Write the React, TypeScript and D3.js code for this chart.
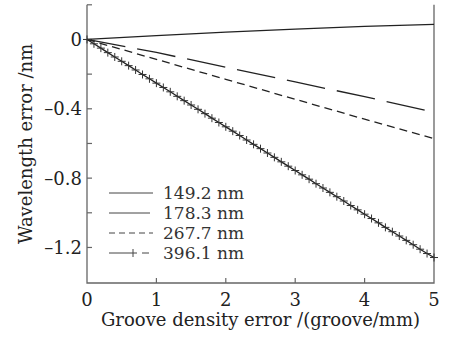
import React from 'react'
import * as d3 from 'd3'

// Groove density error (groove/mm) for the sampled curves
const xCoarse = [0, 1, 2, 3, 4, 5]
const s149 = [0, 0.022, 0.042, 0.06, 0.075, 0.087]
const s178 = [0, -0.075, -0.16, -0.245, -0.33, -0.42]
const s267 = [0, -0.115, -0.23, -0.345, -0.46, -0.572]

// 396.1 nm curve is sampled densely (with + markers)
const xFine = [
  0, 0.1, 0.2, 0.3, 0.4, 0.5, 0.6, 0.7, 0.8, 0.9,
  1, 1.1, 1.2, 1.3, 1.4, 1.5, 1.6, 1.7, 1.8, 1.9,
  2, 2.1, 2.2, 2.3, 2.4, 2.5, 2.6, 2.7, 2.8, 2.9,
  3, 3.1, 3.2, 3.3, 3.4, 3.5, 3.6, 3.7, 3.8, 3.9,
  4, 4.1, 4.2, 4.3, 4.4, 4.5, 4.6, 4.7, 4.8, 4.9, 5,
]
const s396 = [
  0, -0.025, -0.05, -0.076, -0.101, -0.126, -0.151, -0.176, -0.202, -0.227,
  -0.252, -0.277, -0.302, -0.328, -0.353, -0.378, -0.403, -0.428, -0.454, -0.479,
  -0.504, -0.529, -0.554, -0.58, -0.605, -0.63, -0.655, -0.68, -0.706, -0.731,
  -0.756, -0.781, -0.806, -0.832, -0.857, -0.882, -0.907, -0.932, -0.958, -0.983,
  -1.008, -1.033, -1.058, -1.084, -1.109, -1.134, -1.159, -1.184, -1.21, -1.235, -1.258,
]

const xTicks = [0, 1, 2, 3, 4, 5]
const yTicksMajor = [0, -0.4, -0.8, -1.2]
const yTicksMinor = [0.2, -0.2, -0.6, -1.0]
const legendLabels = ['149.2 nm', '178.3 nm', '267.7 nm', '396.1 nm']

const W = 453
const H = 338
const FONT = '"DejaVu Serif", serif'
const INK = '#222'
const FRAME = '#666'

export default function App() {
  const left = 87
  const right = 434
  const top = 4.8
  const bottom = 283

  const x = d3.scaleLinear().domain([0, 5]).range([left, right])
  const y = d3.scaleLinear().domain([-1.405, 0.2]).range([bottom, top])

  const line = d3.line<[number, number]>()
    .x(d => x(d[0]))
    .y(d => y(d[1]))

  const coarse = (vals: number[]) => xCoarse.map((v, i) => [v, vals[i]] as [number, number])
  const fine = xFine.map((v, i) => [v, s396[i]] as [number, number])

  const series = [
    { pts: coarse(s149), dash: undefined },
    { pts: coarse(s178), dash: '39,12' },
    { pts: coarse(s267), dash: '8,5' },
  ]

  const plus = (cx: number, cy: number, r = 4) =>
    `M${cx - r},${cy}H${cx + r}M${cx},${cy - r}V${cy + r}`

  const fmt = (v: number) => (v === 0 ? '0' : (v < 0 ? '\u2013' : '') + Math.abs(v).toFixed(1))

  const legX = 109
  const legY0 = 193
  const legStep = 20

  return (
    <svg width={W} height={H} style={{ position: 'absolute', left: 0, top: 0, background: '#fff' }}
      fontFamily={FONT}>
      {/* frame */}
      <path d={`M${left},${top}V${bottom}H${right}V${top}`} fill="none" stroke={FRAME} strokeWidth={1.3} />

      {/* x ticks */}
      {xTicks.map(t => (
        <g key={'x' + t}>
          {t > 0 && t < 5 && (
            <line x1={x(t)} x2={x(t)} y1={bottom} y2={bottom - 5} stroke={FRAME} strokeWidth={1.2} />
          )}
          <text x={x(t)} y={306} textAnchor="middle" fontSize={18} fill={INK}>{t}</text>
        </g>
      ))}

      {/* y ticks */}
      {yTicksMajor.concat(yTicksMinor).map(t => (
        <line key={'yt' + t} x1={left} x2={left + 5} y1={y(t)} y2={y(t)} stroke={FRAME} strokeWidth={1.2} />
      ))}
      {yTicksMajor.map(t => (
        <text key={'yl' + t} x={82} y={y(t)} dy="0.36em" textAnchor="end" fontSize={18} fill={INK}>{fmt(t)}</text>
      ))}

      {/* axis titles */}
      <text x={(left + right) / 2} y={326} textAnchor="middle" fontSize={18} fill={INK}>
        Groove density error /(groove/mm)
      </text>
      <text transform={`translate(32,${(top + bottom) / 2}) rotate(-90)`} textAnchor="middle" fontSize={18} fill={INK}>
        Wavelength error /nm
      </text>

      {/* series */}
      {series.map((s, i) => (
        <path key={'s' + i} d={line(s.pts) || ''} fill="none" stroke={INK} strokeWidth={1.3}
          strokeDasharray={s.dash} />
      ))}
      <path d={line(fine) || ''} fill="none" stroke={INK} strokeWidth={1.3} />
      {fine.map((p, i) => (
        <path key={'m' + i} d={plus(x(p[0]), y(p[1]))} stroke="#333" strokeWidth={1} fill="none" />
      ))}

      {/* legend */}
      {legendLabels.map((lab, i) => {
        const ly = legY0 + i * legStep
        return (
          <g key={lab}>
            {i === 0 && <line x1={legX} x2={legX + 44} y1={ly} y2={ly} stroke="#444" strokeWidth={1} />}
            {i === 1 && <line x1={legX} x2={legX + 41} y1={ly} y2={ly} stroke="#444" strokeWidth={1} />}
            {i === 2 && <line x1={legX} x2={legX + 44} y1={ly} y2={ly} stroke="#444" strokeWidth={1} strokeDasharray="6,4" />}
            {i === 3 && (
              <g stroke="#444" strokeWidth={1} fill="none">
                <line x1={legX} x2={legX + 20} y1={ly} y2={ly} />
                <path d={plus(legX + 24, ly, 4)} />
                <line x1={legX + 33} x2={legX + 40} y1={ly} y2={ly} />
              </g>
            )}
            <text x={163} y={ly} dy="0.36em" fontSize={17} fill="#333">{lab}</text>
          </g>
        )
      })}
    </svg>
  )
}
